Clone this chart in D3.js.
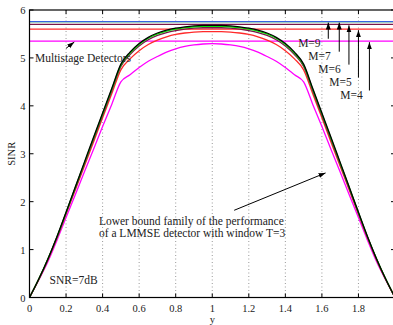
<!DOCTYPE html>
<html>
<head>
<meta charset="utf-8">
<script src="https://cdn.jsdelivr.net/npm/d3@7"></script>
<style>
  body { margin: 0; background: #fff; }
  text { font-family: "Liberation Serif", "DejaVu Serif", serif; fill: #222; }
</style>
</head>
<body>
<svg id="chart" width="393" height="325"></svg>
<script>
const xs = [0, 0.05, 0.1, 0.15, 0.2, 0.25, 0.3, 0.35, 0.4, 0.45, 0.5, 0.55, 0.6, 0.65, 0.7, 0.75, 0.8, 0.85, 0.9, 0.95,
  1.0, 1.05, 1.1, 1.15, 1.2, 1.25, 1.3, 1.35, 1.4, 1.45, 1.5, 1.55, 1.6, 1.65, 1.7, 1.75, 1.8, 1.85, 1.9, 1.95, 2.0];

const lbMagenta = [0, 0.36, 0.74, 1.19, 1.67, 2.14, 2.62, 3.09, 3.57, 4.03, 4.5, 4.65, 4.8, 4.93, 5.03, 5.12, 5.19, 5.24, 5.27, 5.29,
  5.3, 5.29, 5.27, 5.24, 5.19, 5.12, 5.03, 4.93, 4.8, 4.65, 4.5, 4.03, 3.57, 3.09, 2.62, 2.14, 1.67, 1.19, 0.74, 0.36, 0];
const lbRed = [0, 0.37, 0.78, 1.24, 1.74, 2.24, 2.74, 3.24, 3.75, 4.25, 4.75, 4.98, 5.15, 5.28, 5.37, 5.44, 5.49, 5.52, 5.54, 5.55,
  5.55, 5.55, 5.54, 5.52, 5.49, 5.44, 5.37, 5.28, 5.15, 4.98, 4.75, 4.25, 3.75, 3.24, 2.74, 2.24, 1.74, 1.24, 0.78, 0.37, 0];
const lbPurple = [0, 0.37, 0.79, 1.25, 1.76, 2.27, 2.78, 3.29, 3.8, 4.31, 4.82, 5.07, 5.25, 5.38, 5.47, 5.53, 5.57, 5.6, 5.62, 5.63,
  5.63, 5.63, 5.62, 5.6, 5.57, 5.53, 5.47, 5.38, 5.25, 5.07, 4.82, 4.31, 3.8, 3.29, 2.78, 2.27, 1.76, 1.25, 0.79, 0.37, 0];
const lbGreen = [0, 0.38, 0.8, 1.26, 1.77, 2.29, 2.8, 3.32, 3.83, 4.34, 4.85, 5.1, 5.28, 5.41, 5.5, 5.56, 5.6, 5.63, 5.65, 5.66,
  5.66, 5.66, 5.65, 5.63, 5.6, 5.56, 5.5, 5.41, 5.28, 5.1, 4.85, 4.34, 3.83, 3.32, 2.8, 2.29, 1.77, 1.26, 0.8, 0.38, 0];
const lbBlack = [0, 0.38, 0.8, 1.27, 1.78, 2.3, 2.82, 3.34, 3.85, 4.36, 4.87, 5.12, 5.3, 5.43, 5.52, 5.58, 5.62, 5.65, 5.67, 5.68,
  5.68, 5.68, 5.67, 5.65, 5.62, 5.58, 5.52, 5.43, 5.3, 5.12, 4.87, 4.36, 3.85, 3.34, 2.82, 2.3, 1.78, 1.27, 0.8, 0.38, 0];

// multistage detector levels (horizontal lines)
const mValues = [4, 5, 6, 7, 9];
const mLevels = [5.35, 5.6, 5.7, 5.758, 5.758];
const mColors = ["#ff00ff", "#ff2a2a", "#7a1848", "#00e000", "#3a62e0"];
const mLabelX = [1.7, 1.64, 1.58, 1.525, 1.47];
const mArrowX = [1.86, 1.8, 1.748, 1.695, 1.635];

const xTicks = [0, 0.2, 0.4, 0.6, 0.8, 1, 1.2, 1.4, 1.6, 1.8, 2];
const yTicks = [0, 1, 2, 3, 4, 5, 6];

const svg = d3.select("#chart");
const padL = 29.5, padR = 395, padT = 10, padB = 297.5;

const x = d3.scaleLinear().domain([0, 2]).range([padL, padR]);
const y = d3.scaleLinear().domain([0, 6]).range([padB, padT]);

svg.append("defs").append("marker")
  .attr("id", "arr")
  .attr("viewBox", "0 0 10 10")
  .attr("refX", 10).attr("refY", 5)
  .attr("markerWidth", 7).attr("markerHeight", 7)
  .attr("markerUnits", "userSpaceOnUse")
  .attr("orient", "auto")
  .append("path").attr("d", "M0,1.5 L10,5 L0,8.5 Z").attr("fill", "#000");

// vertical dotted grid
svg.append("g")
  .selectAll(null)
  .data(xTicks.slice(1, -1))
  .enter()
  .append("line")
  .attr("x1", (d) => x(d)).attr("x2", (d) => x(d))
  .attr("y1", padT).attr("y2", padB)
  .attr("stroke", "#999")
  .attr("stroke-dasharray", "1,2.5");

// horizontal detector lines
svg.append("g")
  .selectAll(null)
  .data(mLevels)
  .enter()
  .append("line")
  .attr("x1", x(0)).attr("x2", x(2))
  .attr("y1", (d) => y(d)).attr("y2", (d) => y(d))
  .attr("stroke", (d, i) => mColors[i])
  .attr("stroke-width", 1.3);

// lower bound curves
const series = [
  [lbMagenta, "#ff00ff"],
  [lbRed, "#ff2a2a"],
  [lbPurple, "#7a1848"],
  [lbGreen, "#00e000"],
  [lbBlack, "#000"],
];
const line = d3.line()
  .x((d, i) => x(xs[i]))
  .y((d) => y(d))
  .curve(d3.curveMonotoneX);

svg.append("g")
  .selectAll(null)
  .data(series)
  .enter()
  .append("path")
  .attr("d", (d) => line(d[0]))
  .attr("fill", "none")
  .attr("stroke", (d) => d[1])
  .attr("stroke-width", 1.3);

// frame + ticks (ticks inside, matlab style)
const frame = svg.append("g");
frame.append("rect")
  .attr("x", padL).attr("y", padT)
  .attr("width", padR - padL).attr("height", padB - padT)
  .attr("fill", "none").attr("stroke", "#000").attr("stroke-width", 1.2);

const tl = 4;
xTicks.forEach((t) => {
  frame.append("line").attr("x1", x(t)).attr("x2", x(t)).attr("y1", padB).attr("y2", padB - tl).attr("stroke", "#000");
  frame.append("line").attr("x1", x(t)).attr("x2", x(t)).attr("y1", padT).attr("y2", padT + tl).attr("stroke", "#000");
});
yTicks.forEach((t) => {
  frame.append("line").attr("x1", padL).attr("x2", padL + tl).attr("y1", y(t)).attr("y2", y(t)).attr("stroke", "#000");
  frame.append("line").attr("x1", padR).attr("x2", padR - tl).attr("y1", y(t)).attr("y2", y(t)).attr("stroke", "#000");
});

// the "2" label falls outside the picture in the original
svg.append("g")
  .selectAll(null)
  .data(xTicks.slice(0, -1))
  .enter()
  .append("text")
  .attr("x", (d) => x(d))
  .attr("y", padB + 14)
  .attr("text-anchor", "middle")
  .style("font-size", "10.5px")
  .text((d) => d);

svg.append("g")
  .selectAll(null)
  .data(yTicks)
  .enter()
  .append("text")
  .attr("x", padL - 4)
  .attr("y", (d) => y(d) + 4)
  .attr("text-anchor", "end")
  .style("font-size", "10.5px")
  .text((d) => d);

svg.append("text")
  .attr("x", x(1)).attr("y", padB + 25)
  .attr("text-anchor", "middle")
  .style("font-size", "10.5px")
  .text("y");

svg.append("text")
  .attr("transform", `translate(15, ${y(3)}) rotate(-90)`)
  .attr("text-anchor", "middle")
  .style("font-size", "10.5px")
  .text("SINR");

// annotations
const note = svg.append("g").style("font-size", "11.5px");

note.append("text").attr("x", x(0.03)).attr("y", y(4.92)).text("Multistage Detectors");
note.append("line")
  .attr("x1", x(0.2)).attr("y1", y(5.2))
  .attr("x2", x(0.245)).attr("y2", y(5.33))
  .attr("stroke", "#000").attr("marker-end", "url(#arr)");

note.selectAll(null)
  .data(mValues)
  .enter()
  .append("text")
  .attr("x", (d, i) => x(mLabelX[i]))
  .attr("y", (d, i) => y(4.14 + i * 0.27))
  .text((d) => `M=${d}`);

note.selectAll(null)
  .data(mLevels)
  .enter()
  .append("line")
  .attr("x1", (d, i) => x(mArrowX[i])).attr("x2", (d, i) => x(mArrowX[i]))
  .attr("y1", (d, i) => y(4.2 + i * 0.27 + 0.12))
  .attr("y2", (d) => y(d) + 1)
  .attr("stroke", "#000")
  .attr("marker-end", "url(#arr)");

note.append("text").attr("x", x(0.38)).attr("y", y(1.52)).text("Lower bound family of the performance");
note.append("text").attr("x", x(0.38)).attr("y", y(1.27)).text("of a LMMSE detector with window T=3");
note.append("line")
  .attr("x1", x(1.12)).attr("y1", y(1.82))
  .attr("x2", x(1.62)).attr("y2", y(2.6))
  .attr("stroke", "#000").attr("marker-end", "url(#arr)");

note.append("text").attr("x", x(0.11)).attr("y", y(0.28)).text("SNR=7dB");
</script>
</body>
</html>
